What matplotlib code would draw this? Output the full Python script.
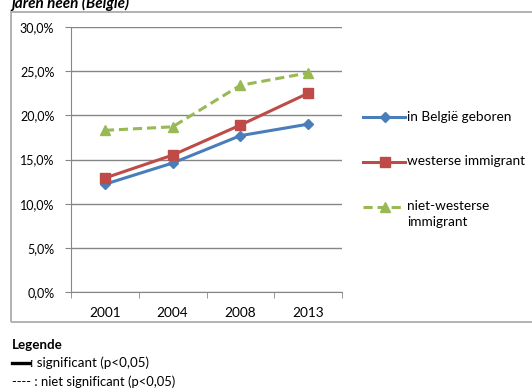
import numpy as np
import matplotlib.pyplot as plt
from matplotlib.patches import Rectangle
from matplotlib.lines import Line2D
from matplotlib.ticker import FuncFormatter, FixedLocator

plt.rcParams['font.family'] = ['Lato', 'DejaVu Sans']

years = ['2001', '2004', '2008', '2013']
belgie = [12.2, 14.6, 17.7, 19.0]
westers = [12.9, 15.5, 18.9, 22.5]
niet_westers = [18.3, 18.7, 23.4, 24.8]
labels = ['in België geboren', 'westerse immigrant', 'niet-westerse\nimmigrant']

W, H = 532, 392
fig = plt.figure(figsize=(W / 100, H / 100), dpi=100)
tf = fig.transFigure

# outer chart frame
fig.patches.append(Rectangle((11 / W, 1 - 322 / H), 1, (322 - 12) / H,
                             transform=tf, fill=False,
                             edgecolor='#a6a6a6', linewidth=1.2))
fig.text(11 / W, 1 - 3 / H, 'jaren heen (België)', fontsize=11,
         fontweight='bold', style='italic', va='center', ha='left')

styles = [
    dict(color='#4a7ebb', lw=2.2, marker='D', ms=5.5),
    dict(color='#be4b48', lw=2.2, marker='s', ms=7),
    dict(color='#98b954', lw=2.2, ls=(0, (3, 1.6)), marker='^', ms=7),
]

ax = fig.add_axes([71 / W, 1 - 292 / H, (342 - 71) / W, (292 - 27) / H])
x = np.arange(len(years))
for vals, st in zip([belgie, westers, niet_westers], styles):
    ax.plot(x, vals, **st)

ax.set_xlim(-0.5, len(years) - 0.5)
ax.set_ylim(0, 30)
ax.set_yticks(np.arange(0, 31, 5))
ax.yaxis.set_major_formatter(FuncFormatter(lambda v, p: f'{v:.1f}%'.replace('.', ',')))
ax.set_xticks(x)
ax.set_xticklabels(years)
ax.xaxis.set_minor_locator(FixedLocator(np.arange(-0.5, len(years), 1)))
ax.tick_params(axis='x', which='major', length=0, pad=11, labelsize=9.8)
ax.tick_params(axis='x', which='minor', length=4, color='#868686')
ax.tick_params(axis='y', length=4, color='#868686', labelsize=9, pad=8)
ax.grid(axis='y', color='#868686', lw=1)
ax.set_axisbelow(True)
for s in ['top', 'right']:
    ax.spines[s].set_visible(False)
for s in ['left', 'bottom']:
    ax.spines[s].set_color('#868686')

# series legend at the right, drawn by hand so the marker sits on the first text line
for i, (lab, st) in enumerate(zip(labels, styles)):
    y = 1 - (117 + 45 * i) / H
    st = dict(st)
    ms, mk = st.pop('ms'), st.pop('marker')
    fig.add_artist(Line2D([363 / W, 405 / W], [y, y], transform=tf, **st))
    fig.add_artist(Line2D([385 / W], [y], transform=tf, marker=mk, ms=ms,
                          color=st['color'], ls='none'))
    fig.text(407 / W, y + 6.5 / H, lab, fontsize=9.8, va='top', ha='left',
             linespacing=1.35)

# significance legend below
fig.text(12 / W, 1 - 345 / H, 'Legende', fontsize=9.6, fontweight='bold', va='center')
fig.add_artist(Line2D([12 / W, 30 / W], [1 - 363 / H] * 2, color='black', lw=2.4,
                      transform=tf))
fig.text(30 / W, 1 - 363 / H, ': significant (p<0,05)', fontsize=9.6, va='center')
fig.text(12 / W, 1 - 382 / H, '---- : niet significant (p<0,05)', fontsize=9.4, va='center')

fig.savefig('out.png', dpi=100)
